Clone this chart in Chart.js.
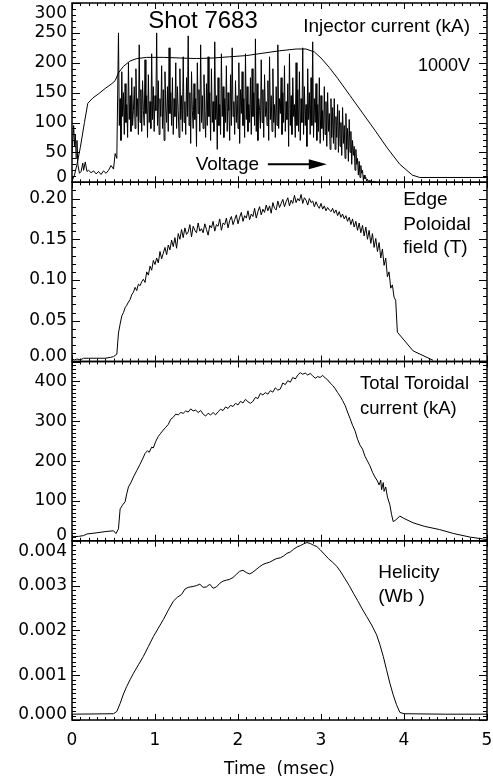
<!DOCTYPE html>
<html>
<head>
<meta charset="utf-8">
<script src="https://cdn.jsdelivr.net/npm/chart.js@4.4.0/dist/chart.umd.min.js"></script>
<style>
  html, body { margin: 0; padding: 0; background: #fff; }
  #wrap { width: 493px; height: 777px; }
</style>
</head>
<body>
<div id="wrap"><canvas id="shot" width="493" height="777"></canvas></div>
<script>
// shot 7683, time in msec

// injector voltage (plotted on the kA axis, 1000V scale)
var voltPreTime = [0.00, 0.02, 0.03, 0.04, 0.05, 0.06, 0.07, 0.09, 0.11, 0.13, 0.14, 0.16, 0.18, 0.20,
  0.23, 0.26, 0.29, 0.32, 0.35, 0.38, 0.41, 0.44, 0.47, 0.50, 0.52, 0.54];
var voltPre = [50, 95, 60, 80, 40, 70, 30, 15, 18, 32, 20, 34, 18, 20,
  16, 19, 14, 18, 13, 19, 15, 20, 28, 22, 48, 40];
var voltFastTime = [
  0.56, 0.57, 0.58, 0.59, 0.60, 0.61, 0.62, 0.63, 0.64, 0.65,
  0.66, 0.67, 0.68, 0.69, 0.70, 0.71, 0.72, 0.73, 0.74, 0.75,
  0.76, 0.77, 0.78, 0.79, 0.80, 0.81, 0.82, 0.83, 0.84, 0.85,
  0.86, 0.87, 0.88, 0.89, 0.90, 0.91, 0.92, 0.93, 0.94, 0.95,
  0.96, 0.97, 0.98, 0.99, 1.00, 1.01, 1.02, 1.03, 1.04, 1.05,
  1.06, 1.07, 1.08, 1.09, 1.10, 1.11, 1.12, 1.13, 1.14, 1.15,
  1.16, 1.17, 1.18, 1.19, 1.20, 1.21, 1.22, 1.23, 1.24, 1.25,
  1.26, 1.27, 1.28, 1.29, 1.30, 1.31, 1.32, 1.33, 1.34, 1.35,
  1.36, 1.37, 1.38, 1.39, 1.40, 1.41, 1.42, 1.43, 1.44, 1.45,
  1.46, 1.47, 1.48, 1.49, 1.50, 1.51, 1.52, 1.53, 1.54, 1.55,
  1.56, 1.57, 1.58, 1.59, 1.60, 1.61, 1.62, 1.63, 1.64, 1.65,
  1.66, 1.67, 1.68, 1.69, 1.70, 1.71, 1.72, 1.73, 1.74, 1.75,
  1.76, 1.77, 1.78, 1.79, 1.80, 1.81, 1.82, 1.83, 1.84, 1.85,
  1.86, 1.87, 1.88, 1.89, 1.90, 1.91, 1.92, 1.93, 1.94, 1.95,
  1.96, 1.97, 1.98, 1.99, 2.00, 2.01, 2.02, 2.03, 2.04, 2.05,
  2.06, 2.07, 2.08, 2.09, 2.10, 2.11, 2.12, 2.13, 2.14, 2.15,
  2.16, 2.17, 2.18, 2.19, 2.20, 2.21, 2.22, 2.23, 2.24, 2.25,
  2.26, 2.27, 2.28, 2.29, 2.30, 2.31, 2.32, 2.33, 2.34, 2.35,
  2.36, 2.37, 2.38, 2.39, 2.40, 2.41, 2.42, 2.43, 2.44, 2.45,
  2.46, 2.47, 2.48, 2.49, 2.50, 2.51, 2.52, 2.53, 2.54, 2.55,
  2.56, 2.57, 2.58, 2.59, 2.60, 2.61, 2.62, 2.63, 2.64, 2.65,
  2.66, 2.67, 2.68, 2.69, 2.70, 2.71, 2.72, 2.73, 2.74, 2.75,
  2.76, 2.77, 2.78, 2.79, 2.80, 2.81, 2.82, 2.83, 2.84, 2.85,
  2.86, 2.87, 2.88, 2.89, 2.90, 2.91, 2.92, 2.93, 2.94, 2.95,
  2.96, 2.97, 2.98, 2.99, 3.00, 3.01, 3.02, 3.03, 3.04, 3.05,
  3.06, 3.07, 3.08, 3.09, 3.10, 3.11, 3.12, 3.13, 3.14, 3.15,
  3.16, 3.17, 3.18, 3.19, 3.20, 3.21, 3.22, 3.23, 3.24, 3.25,
  3.26, 3.27, 3.28, 3.29, 3.30, 3.31, 3.32, 3.33, 3.34, 3.35,
  3.36, 3.37, 3.38, 3.39, 3.40, 3.41, 3.42, 3.43, 3.44, 3.45,
  3.46, 3.47, 3.48, 3.49, 3.50, 3.51, 3.52, 3.53, 3.54, 3.55,
  3.56, 3.57, 3.58, 3.59, 3.60, 3.61, 3.62, 3.63, 3.64, 3.65,
  3.66
];
var voltFast = [
  250, 95, 140, 70, 185, 110, 150, 80, 165, 100,
  130, 75, 200, 105, 145, 85, 175, 95, 120, 160,
  90, 190, 110, 140, 80, 230, 100, 155, 85, 170,
  120, 95, 205, 115, 145, 75, 180, 100, 135, 90,
  215, 105, 160, 85, 145, 120, 250, 95, 170, 80,
  140, 110, 195, 90, 155, 70, 185, 125, 100, 160,
  85, 225, 115, 150, 95, 175, 80, 140, 110, 200,
  90, 160, 120, 75, 190, 105, 145, 85, 210, 100,
  135, 80, 175, 110, 245, 95, 150, 65, 185, 120,
  90, 165, 105, 140, 60, 200, 115, 155, 85, 230,
  100, 145, 90, 180, 120, 75, 165, 95, 210, 110,
  150, 70, 190, 100, 135, 85, 235, 105, 145, 55,
  175, 95, 130, 80, 215, 110, 160, 75, 140, 100,
  195, 85, 150, 120, 70, 180, 95, 225, 110, 135,
  80, 170, 100, 145, 90, 200, 65, 155, 115, 185,
  95, 140, 75, 215, 105, 160, 85, 130, 100, 175,
  80, 190, 110, 150, 95, 240, 85, 165, 70, 140,
  120, 90, 205, 100, 155, 75, 180, 110, 135, 95,
  170, 70, 210, 105, 145, 85, 190, 100, 130, 75,
  160, 95, 230, 90, 140, 115, 175, 80, 150, 100,
  195, 85, 135, 105, 165, 60, 215, 95, 145, 80,
  175, 110, 130, 75, 200, 95, 155, 85, 185, 70,
  140, 100, 225, 80, 160, 95, 130, 60, 190, 105,
  150, 80, 175, 95, 235, 75, 140, 100, 165, 70,
  130, 85, 175, 65, 145, 90, 120, 70, 160, 80,
  135, 60, 150, 85, 115, 55, 140, 75, 125, 65,
  140, 55, 110, 75, 130, 50, 120, 60, 100, 45,
  125, 65, 95, 40, 115, 55, 90, 35, 105, 50,
  85, 30, 70, 45, 60, 20, 55, 30, 40, 12,
  35, 8, 28, 15, 20, 4, 12, 6, 8, 2,
  5, 1, 3, 0, 2, 1, 0, 2, 0, 1,
  0
];

// injector current (kA)
var injTime = [0.00, 0.03, 0.06, 0.10, 0.15, 0.19, 0.25, 0.32, 0.40, 0.48, 0.52, 0.56, 0.62, 0.70, 0.78,
  0.90, 1.10, 1.30, 1.50, 1.70, 1.90, 2.10, 2.30, 2.50, 2.70, 2.82, 2.92, 3.00, 3.10, 3.20,
  3.35, 3.50, 3.65, 3.80, 3.95, 4.10, 4.19, 5.00];
var injKA = [2, 12, 30, 58, 100, 132, 141, 148, 157, 165, 170, 183, 194, 203, 207,
  209, 209, 208, 207, 208, 210, 212, 216, 220, 223, 223, 218, 208, 192, 174,
  145, 116, 87, 57, 30, 12, 8, 8];

// edge poloidal field (T)
var polPreTime = [0.00, 0.03, 0.06, 0.10, 0.14, 0.20, 0.30, 0.40, 0.46, 0.50, 0.54];
var polPre = [0.003, 0.002, 0.003, 0.002, 0.004, 0.004, 0.004, 0.004, 0.005, 0.006, 0.009];
var polFastTime = [
  0.56, 0.58, 0.60, 0.62, 0.64, 0.66, 0.68, 0.70, 0.72, 0.74,
  0.76, 0.78, 0.80, 0.82, 0.84, 0.86, 0.88, 0.90, 0.92, 0.94,
  0.96, 0.98, 1.00, 1.02, 1.04, 1.06, 1.08, 1.10, 1.12, 1.14,
  1.16, 1.18, 1.20, 1.22, 1.24, 1.26, 1.28, 1.30, 1.32, 1.34,
  1.36, 1.38, 1.40, 1.42, 1.44, 1.46, 1.48, 1.50, 1.52, 1.54,
  1.56, 1.58, 1.60, 1.62, 1.64, 1.66, 1.68, 1.70, 1.72, 1.74,
  1.76, 1.78, 1.80, 1.82, 1.84, 1.86, 1.88, 1.90, 1.92, 1.94,
  1.96, 1.98, 2.00, 2.02, 2.04, 2.06, 2.08, 2.10, 2.12, 2.14,
  2.16, 2.18, 2.20, 2.22, 2.24, 2.26, 2.28, 2.30, 2.32, 2.34,
  2.36, 2.38, 2.40, 2.42, 2.44, 2.46, 2.48, 2.50, 2.52, 2.54,
  2.56, 2.58, 2.60, 2.62, 2.64, 2.66, 2.68, 2.70, 2.72, 2.74,
  2.76, 2.78, 2.80, 2.82, 2.84, 2.86, 2.88, 2.90, 2.92, 2.94,
  2.96, 2.98, 3.00, 3.02, 3.04, 3.06, 3.08, 3.10, 3.12, 3.14,
  3.16, 3.18, 3.20, 3.22, 3.24, 3.26, 3.28, 3.30, 3.32, 3.34,
  3.36, 3.38, 3.40, 3.42, 3.44, 3.46, 3.48, 3.50, 3.52, 3.54,
  3.56, 3.58, 3.60, 3.62, 3.64, 3.66, 3.68, 3.70, 3.72, 3.74,
  3.76, 3.78, 3.80, 3.82, 3.84, 3.86, 3.88, 3.90
];
var polFast = [
  0.035, 0.046, 0.056, 0.060, 0.066, 0.069, 0.073, 0.076, 0.082, 0.085,
  0.091, 0.087, 0.095, 0.093, 0.098, 0.101, 0.097, 0.110, 0.106, 0.117,
  0.112, 0.124, 0.119, 0.127, 0.121, 0.135, 0.126, 0.133, 0.140, 0.131,
  0.143, 0.137, 0.149, 0.141, 0.152, 0.139, 0.157, 0.150, 0.162, 0.152,
  0.164, 0.156, 0.159, 0.168, 0.153, 0.166, 0.161, 0.158, 0.170, 0.160,
  0.163, 0.158, 0.169, 0.162, 0.155, 0.167, 0.164, 0.172, 0.160, 0.168,
  0.166, 0.175, 0.161, 0.170, 0.168, 0.176, 0.164, 0.173, 0.178, 0.168,
  0.174, 0.180, 0.169, 0.177, 0.183, 0.172, 0.179, 0.176, 0.185, 0.174,
  0.181, 0.178, 0.188, 0.176, 0.184, 0.190, 0.180, 0.187, 0.183, 0.192,
  0.185, 0.191, 0.182, 0.195, 0.188, 0.186, 0.197, 0.189, 0.194, 0.199,
  0.190, 0.196, 0.201, 0.191, 0.198, 0.194, 0.204, 0.195, 0.200, 0.197,
  0.205, 0.194, 0.201, 0.198, 0.192, 0.200, 0.195, 0.197, 0.190, 0.196,
  0.191, 0.188, 0.194, 0.187, 0.191, 0.185, 0.189, 0.186, 0.184, 0.188,
  0.182, 0.186, 0.179, 0.184, 0.177, 0.181, 0.175, 0.179, 0.172, 0.177,
  0.168, 0.175, 0.165, 0.172, 0.161, 0.170, 0.158, 0.167, 0.154, 0.165,
  0.150, 0.161, 0.145, 0.157, 0.140, 0.151, 0.135, 0.146, 0.127, 0.138,
  0.118, 0.127, 0.104, 0.110, 0.090, 0.094, 0.079, 0.075
];
var polTailTime = [3.92, 4.11, 4.35];
var polTail = [0.036, 0.013, 0.0015];

// total toroidal current (kA)
var torTime = [0.00, 0.08, 0.14, 0.18, 0.30, 0.40, 0.50, 0.53, 0.56, 0.58, 0.61, 0.64, 0.66, 0.68, 0.71,
  0.74, 0.78, 0.82, 0.85, 0.88, 0.91, 0.93, 0.96, 0.98, 1.01, 1.04, 1.07, 1.10, 1.13, 1.16,
  1.19, 1.22, 1.25, 1.28, 1.31, 1.34, 1.37, 1.40, 1.43, 1.46, 1.49, 1.52, 1.55, 1.58, 1.61,
  1.64, 1.67, 1.70, 1.73, 1.76, 1.79, 1.82, 1.85, 1.88, 1.91, 1.94, 1.97, 2.00, 2.03, 2.06,
  2.09, 2.12, 2.15, 2.18, 2.21, 2.24, 2.27, 2.30, 2.33, 2.36, 2.39, 2.42, 2.45, 2.48, 2.51,
  2.54, 2.57, 2.60, 2.63, 2.66, 2.69, 2.72, 2.75, 2.78, 2.81, 2.84, 2.87, 2.90, 2.93, 2.96,
  2.99, 3.02, 3.05, 3.08, 3.11, 3.14, 3.17, 3.20, 3.23, 3.26, 3.29, 3.32, 3.35, 3.38, 3.41,
  3.44, 3.47, 3.50, 3.53, 3.56, 3.59, 3.62, 3.65, 3.68, 3.70, 3.72, 3.73, 3.75, 3.76, 3.78,
  3.80, 3.83, 3.85, 3.87, 3.90, 3.95, 4.00, 4.11, 4.25, 4.43, 4.60, 4.80, 5.00];
var torKA = [10, 11, 13, 17, 20, 23, 25, 18, 30, 80, 90, 98, 118, 135, 146,
  160, 176, 192, 205, 219, 226, 222, 235, 233, 250, 262, 270, 278, 285, 292,
  305, 310, 318, 316, 322, 320, 326, 323, 331, 326, 328, 322, 327, 318, 313,
  320, 316, 322, 316, 324, 330, 327, 336, 332, 340, 337, 345, 341, 350, 346,
  355, 349, 345, 350, 360, 357, 370, 366, 372, 368, 377, 373, 384, 378, 381,
  396, 392, 402, 398, 410, 406, 416, 422, 418, 421, 416, 420, 414, 408, 412,
  410, 415, 409, 404, 396, 390, 382, 372, 363, 352, 340, 323, 307, 290, 276,
  255, 240, 230, 212, 200, 188, 172, 160, 150, 140, 152, 128, 146, 124, 135,
  110, 90, 66, 48, 52, 62, 56, 45, 36, 28, 18, 9, 3];

// helicity (Wb)
var helTime = [0.00, 0.50, 0.54, 0.58, 0.62, 0.66, 0.70, 0.74, 0.80, 0.86, 0.92, 0.98, 1.04, 1.10, 1.16,
  1.22, 1.27, 1.32, 1.36, 1.40, 1.46, 1.50, 1.54, 1.58, 1.62, 1.66, 1.70, 1.74, 1.78, 1.82,
  1.86, 1.90, 1.94, 1.98, 2.02, 2.06, 2.10, 2.14, 2.18, 2.22, 2.26, 2.30, 2.34, 2.38, 2.42,
  2.46, 2.51, 2.55, 2.59, 2.63, 2.67, 2.71, 2.75, 2.79, 2.83, 2.87, 2.91, 2.95, 2.99, 3.04,
  3.09, 3.14, 3.19, 3.24, 3.29, 3.34, 3.39, 3.44, 3.49, 3.55, 3.61, 3.67, 3.71, 3.75, 3.79,
  3.83, 3.87, 3.91, 3.95, 4.00, 4.50, 5.00];
var helWb = [0.00013, 0.00014, 0.00019, 0.00037, 0.00058, 0.00075, 0.00090, 0.00104, 0.00123, 0.00142,
  0.00164, 0.00186, 0.00205, 0.00224, 0.00245,
  0.00265, 0.00274, 0.00280, 0.00292, 0.00296, 0.00298, 0.00300, 0.00303, 0.00296, 0.00297,
  0.00303, 0.00294, 0.00297, 0.00305, 0.00310,
  0.00312, 0.00314, 0.00318, 0.00325, 0.00332, 0.00334, 0.00329, 0.00326, 0.00330, 0.00336,
  0.00342, 0.00347, 0.00350, 0.00352, 0.00356,
  0.00360, 0.00362, 0.00366, 0.00372, 0.00375, 0.00381, 0.00386, 0.00389, 0.00393, 0.00396,
  0.00394, 0.00390, 0.00387, 0.00380, 0.00370,
  0.00360, 0.00352, 0.00343, 0.00330, 0.00315, 0.00300, 0.00283, 0.00267, 0.00250, 0.00231,
  0.00212, 0.00190, 0.00168, 0.00142, 0.00112,
  0.00082, 0.00056, 0.00034, 0.00017, 0.00014, 0.00013, 0.00013];

function pairs(xs, ys) {
  var out = [];
  for (var i = 0; i < xs.length && i < ys.length; i++) out.push({x: xs[i], y: ys[i]});
  return out;
}

var tickFont = {family: 'DejaVu Sans', size: 17};
var noteFont = 'Liberation Sans';

// axis ids top to bottom, with major/minor tick spacing
var panels = ['yInj', 'yPol', 'yTor', 'yHel'];
var majorStep = {x: 1, yInj: 50, yPol: 0.05, yTor: 100, yHel: 0.001};
var minorStep = {x: 0.1, yInj: 10, yPol: 0.01, yTor: 10, yHel: 0.0001};

function yAxis(id, min, max, digits) {
  var step = majorStep[id];
  return {
    type: 'linear', position: 'left', stack: 'panels', stackWeight: 1,
    min: min, max: max,
    grid: {display: false, drawTicks: false},
    border: {display: false},
    ticks: {
      stepSize: step, includeBounds: false, padding: 5, color: '#000', font: tickFont, autoSkip: false,
      callback: function (v) { return Number(v).toFixed(digits); }
    },
    afterFit: function (s) { s.width = 72; s.paddingTop = 0; s.paddingBottom = 0; }
  };
}

var notes = [
  {axis: 'yInj', t: 0.92, v: 270, text: 'Shot 7683', size: 24, align: 'left'},
  {axis: 'yInj', t: 4.795, v: 261, text: 'Injector current (kA)', size: 19, align: 'right'},
  {axis: 'yInj', t: 4.795, v: 194, text: '1000V', size: 18, align: 'right'},
  {axis: 'yInj', t: 1.49, v: 30, text: 'Voltage', size: 19, align: 'left'},
  {axis: 'yPol', t: 3.99, v: 0.198, text: 'Edge', size: 19, align: 'left'},
  {axis: 'yPol', t: 3.99, v: 0.168, text: 'Poloidal', size: 19, align: 'left'},
  {axis: 'yPol', t: 3.99, v: 0.140, text: 'field (T)', size: 19, align: 'left'},
  {axis: 'yTor', t: 3.47, v: 395, text: 'Total Toroidal', size: 18.5, align: 'left'},
  {axis: 'yTor', t: 3.47, v: 332, text: 'current (kA)', size: 18.5, align: 'left'},
  {axis: 'yHel', t: 3.69, v: 0.00329, text: 'Helicity', size: 19, align: 'left'},
  {axis: 'yHel', t: 3.69, v: 0.00275, text: '(Wb )', size: 19, align: 'left'}
];
var arrow = {axis: 'yInj', from: 2.36, to: 3.07, v: 30};

var idlFrame = {
  id: 'idlFrame',
  beforeDraw: function (chart) {
    // keep edge labels inside their own panel
    panels.forEach(function (id) {
      var s = chart.scales[id];
      s.getLabelItems().forEach(function (item) {
        var y = item.options.translation[1];
        item.options.translation[1] = Math.min(Math.max(y, s.top + 11), s.bottom - 5);
      });
    });
  },
  afterDatasetsDraw: function (chart) {
    var ctx = chart.ctx, xs = chart.scales.x;
    var l = xs.left, r = xs.right;
    ctx.save();
    ctx.strokeStyle = '#000';
    panels.forEach(function (id) {
      var ys = chart.scales[id];
      var top = ys.top, bot = ys.bottom;
      ctx.lineWidth = 1.5;
      ctx.strokeRect(l, top, r - l, bot - top);
      ctx.lineWidth = 1;
      ctx.beginPath();
      var n = Math.round((ys.max - ys.min) / minorStep[id]);
      for (var k = 0; k <= n; k++) {
        var v = ys.min + k * minorStep[id];
        var q = v / majorStep[id];
        var len = Math.abs(q - Math.round(q)) < 1e-6 ? 8 : 4;
        var p = Math.round(ys.getPixelForValue(v)) + 0.5;
        ctx.moveTo(l, p); ctx.lineTo(l + len, p);
        ctx.moveTo(r, p); ctx.lineTo(r - len, p);
      }
      var m = Math.round((xs.max - xs.min) / minorStep.x);
      for (var j = 0; j <= m; j++) {
        var tx = xs.min + j * minorStep.x;
        var tl = j % 10 === 0 ? 6 : 3;
        var px = Math.round(xs.getPixelForValue(tx)) + 0.5;
        ctx.moveTo(px, top); ctx.lineTo(px, top + tl);
        ctx.moveTo(px, bot); ctx.lineTo(px, bot - tl);
      }
      ctx.stroke();
    });
    ctx.restore();
  },
  afterDraw: function (chart) {
    var ctx = chart.ctx, xs = chart.scales.x;
    ctx.save();
    ctx.fillStyle = '#000';
    ctx.textBaseline = 'middle';
    notes.forEach(function (n) {
      ctx.font = n.size + 'px "' + noteFont + '"';
      ctx.textAlign = n.align;
      ctx.fillText(n.text, xs.getPixelForValue(n.t), chart.scales[n.axis].getPixelForValue(n.v));
    });
    var ay = chart.scales[arrow.axis].getPixelForValue(arrow.v);
    var x0 = xs.getPixelForValue(arrow.from), x1 = xs.getPixelForValue(arrow.to);
    ctx.strokeStyle = '#000';
    ctx.lineWidth = 2;
    ctx.beginPath();
    ctx.moveTo(x0, ay); ctx.lineTo(x1 - 14, ay);
    ctx.stroke();
    ctx.beginPath();
    ctx.moveTo(x1, ay); ctx.lineTo(x1 - 18, ay - 5); ctx.lineTo(x1 - 18, ay + 5);
    ctx.closePath();
    ctx.fill();
    ctx.restore();
  }
};

function trace(data, axis) {
  return {data: data, yAxisID: axis, borderColor: '#000', borderWidth: 1,
    pointRadius: 0, tension: 0, fill: false};
}

new Chart(document.getElementById('shot'), {
  type: 'line',
  data: {
    datasets: [
      trace(pairs(voltPreTime.concat(voltFastTime), voltPre.concat(voltFast)), 'yInj'),
      trace(pairs(injTime, injKA), 'yInj'),
      trace(pairs(polPreTime.concat(polFastTime, polTailTime), polPre.concat(polFast, polTail)), 'yPol'),
      trace(pairs(torTime, torKA), 'yTor'),
      trace(pairs(helTime, helWb), 'yHel')
    ]
  },
  options: {
    responsive: false,
    animation: false,
    devicePixelRatio: 1,
    events: [],
    layout: {padding: {left: 0, right: 6, top: 3, bottom: 0}},
    plugins: {legend: {display: false}, tooltip: {enabled: false}},
    scales: {
      x: {
        type: 'linear', position: 'bottom', min: 0, max: 5,
        grid: {display: false, drawTicks: false},
        border: {display: false},
        ticks: {stepSize: 1, padding: 10, color: '#000', font: tickFont, maxRotation: 0, autoSkip: false,
          callback: function (v) { return String(v); }},
        title: {display: true, text: 'Time  (msec)', color: '#000',
          font: {family: 'DejaVu Sans', size: 17, lineHeight: 1}, padding: {top: 0, bottom: -1}},
        afterFit: function (s) { s.height = 57; s.paddingLeft = 0; s.paddingRight = 0; }
      },
      yHel: yAxis('yHel', 0, 0.004, 3),
      yTor: yAxis('yTor', 0, 450, 0),
      yPol: yAxis('yPol', 0, 0.22, 2),
      yInj: yAxis('yInj', 0, 300, 0)
    }
  },
  plugins: [idlFrame]
});
</script>
</body>
</html>
